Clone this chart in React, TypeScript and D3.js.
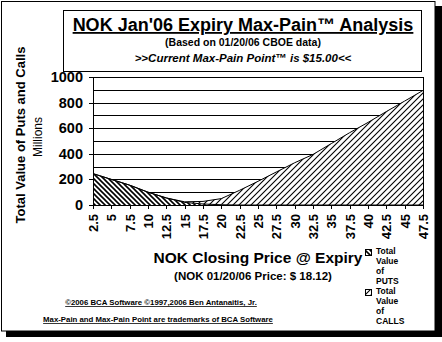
import React from "react";
import * as d3 from "d3";

const strikes = ["2.5","5","7.5","10","12.5","15","17.5","20","22.5","25","27.5","30","32.5","35","37.5","40","42.5","45","47.5"];
const putsValues = [245, 200, 155, 100, 55, 20, 8, 2, 0, 0, 0, 0, 0, 0, 0, 0, 0, 0, 0];
const callsValues = [0, 0, 0, 0, 0, 5, 20, 48, 115, 185, 258, 330, 395, 480, 565, 645, 730, 812, 895];
const yTicks = [0, 200, 400, 600, 800, 1000];
const yGrid = [0, 100, 200, 300, 400, 500, 600, 700, 800, 900, 1000];

const W = 442, H = 342;
const plot = { left: 93, right: 423, top: 77, bottom: 205 };
const FONT = "'Liberation Sans', Arial, sans-serif";

export default function App() {
  const x = d3.scalePoint<string>().domain(strikes).range([plot.left, plot.right]);
  const y = d3.scaleLinear().domain([0, 1000]).range([plot.bottom, plot.top]);
  const yc = (v: number) => Math.round(y(v)) + 0.5;
  const rows = strikes.map((s, i) => ({ s, puts: putsValues[i], calls: callsValues[i] }));
  const stack = d3.stack<any>().keys(["puts", "calls"]);
  const series = stack(rows);
  const area = d3.area<any>()
    .x((d) => x(d.data.s) as number)
    .y0((d) => y(d[0]))
    .y1((d) => y(d[1]));
  const topLine = d3.line<any>()
    .x((d) => x(d.data.s) as number)
    .y((d) => y(d[1]));
  const fills = ["url(#putsPat)", "url(#callsPat)"];

  return (
    <svg width={W} height={H} style={{ position: "absolute", left: 0, top: 0 }} fontFamily={FONT}>
      <defs>
        <pattern id="putsPat" patternUnits="userSpaceOnUse" width="5" height="5">
          <rect width="5" height="5" fill="#fff" />
          <path d="M-1,-1 L6,6 M-1,4 L1,6 M4,-1 L6,1" stroke="#000" strokeWidth="1.6" />
        </pattern>
        <pattern id="callsPat" patternUnits="userSpaceOnUse" width="6" height="6">
          <rect width="6" height="6" fill="#fff" />
          <path d="M-1,7 L7,-1 M-1,1 L1,-1 M5,7 L7,5" stroke="#000" strokeWidth="1.1" />
        </pattern>
      </defs>
      <rect x={0} y={0} width={W} height={H} fill="#fff" />
      {/* shadow */}
      <rect x={435} y={6} width={7} height={331} fill="#000" />
      <rect x={6} y={331} width={436} height={6} fill="#000" />
      {/* frame */}
      <rect x={1.5} y={1.5} width={433.5} height={329.5} fill="#fff" stroke="#000" strokeWidth={1} />

      {/* title box */}
      <rect x={63.5} y={10.5} width={358} height={61} fill="#fff" stroke="#000" strokeWidth={1} />
      <text x={243} y={31} textAnchor="middle" fontSize={18} fontWeight="bold" textDecoration="underline">NOK Jan'06 Expiry Max-Pain™ Analysis</text>
      <text x={243} y={46} textAnchor="middle" fontSize={10.5} fontWeight="bold">(Based on 01/20/06 CBOE data)</text>
      <text x={243} y={62} textAnchor="middle" fontSize={11.5} fontWeight="bold" fontStyle="italic">{">>Current Max-Pain Point™ is $15.00<<"}</text>

      {/* gridlines */}
      {yGrid.map((v) => (
        <line key={"g" + v} x1={plot.left} x2={plot.right} y1={yc(v)} y2={yc(v)} stroke="#000" strokeWidth={1} shapeRendering="crispEdges" />
      ))}
      {/* areas */}
      {series.map((s, i) => (
        <path key={"a" + i} d={area(s as any) || ""} fill={fills[i]} stroke="none" />
      ))}
      {series.map((s, i) => (
        <path key={"l" + i} d={topLine(s as any) || ""} fill="none" stroke="#000" strokeWidth={1} />
      ))}
      {/* plot border */}
      <rect x={plot.left + 0.5} y={yc(1000)} width={plot.right - plot.left} height={yc(0) - yc(1000)} fill="none" stroke="#000" strokeWidth={1} shapeRendering="crispEdges" />

      {/* y axis */}
      <line x1={plot.left + 0.5} x2={plot.left + 0.5} y1={plot.top} y2={plot.bottom} stroke="#000" strokeWidth={1} shapeRendering="crispEdges" />
      {yTicks.map((v) => (
        <g key={"yt" + v}>
          <line x1={plot.left - 4} x2={plot.left} y1={yc(v)} y2={yc(v)} stroke="#000" shapeRendering="crispEdges" />
          <text x={83} y={y(v) + 5} textAnchor="end" fontSize={14.5} fontWeight="bold">{v}</text>
        </g>
      ))}
      {/* x axis */}
      <line x1={plot.left} x2={plot.right} y1={yc(0)} y2={yc(0)} stroke="#000" strokeWidth={1.5} shapeRendering="crispEdges" />
      {strikes.map((s) => (
        <g key={"xt" + s}>
          <line x1={Math.round(x(s) as number) + 0.5} x2={Math.round(x(s) as number) + 0.5} y1={plot.bottom} y2={plot.bottom + 4} stroke="#000" shapeRendering="crispEdges" />
          <text transform={`translate(${(x(s) as number) + 5},${plot.bottom + 9}) rotate(-90)`} textAnchor="end" fontSize={13} fontWeight="bold">{s}</text>
        </g>
      ))}

      {/* axis titles */}
      <text transform="translate(25,135) rotate(-90)" textAnchor="middle" fontSize={13} fontWeight="bold">Total Value of Puts and Calls</text>
      <text transform="translate(42,137) rotate(-90)" textAnchor="middle" fontSize={12}>Millions</text>
      <text x={258} y={263} textAnchor="middle" fontSize={15.5} fontWeight="bold">NOK Closing Price @ Expiry</text>
      <text x={253} y={280} textAnchor="middle" fontSize={11.5} fontWeight="bold">(NOK 01/20/06 Price: $ 18.12)</text>

      {/* copyright */}
      <text x={161} y={305} textAnchor="middle" fontSize={7.8} fontWeight="bold" textDecoration="underline">©2006 BCA Software   ©1997,2006 Ben Antanaitis, Jr.</text>
      <text x={158} y={322} textAnchor="middle" fontSize={7.8} fontWeight="bold" textDecoration="underline">Max-Pain and Max-Pain Point are trademarks of BCA Software</text>

      {/* legend */}
      <rect x={365.5} y={249.5} width={6} height={6} fill="url(#putsPat)" stroke="#000" />
      {["Total", "Value", "of", "PUTS"].map((t, i) => (
        <text key={"lp" + i} x={376} y={254 + i * 10} fontSize={8.5} fontWeight="bold">{t}</text>
      ))}
      <rect x={365.5} y={289.5} width={6} height={6} fill="url(#callsPat)" stroke="#000" />
      {["Total", "Value", "of", "CALLS"].map((t, i) => (
        <text key={"lc" + i} x={376} y={294 + i * 10} fontSize={8.5} fontWeight="bold">{t}</text>
      ))}
    </svg>
  );
}
